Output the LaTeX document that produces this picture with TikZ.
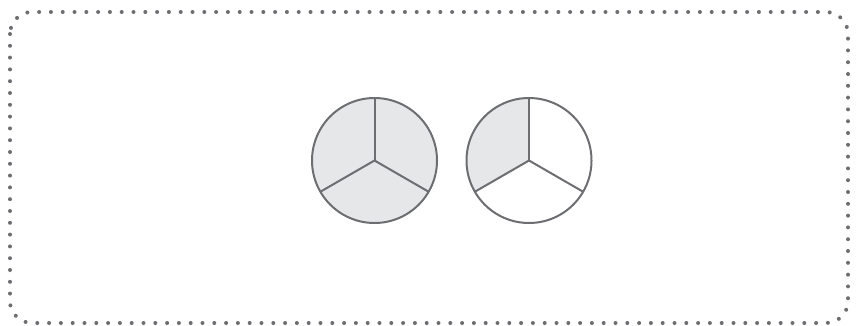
\documentclass[tikz,border=0pt]{standalone}
\definecolor{rimgray}{HTML}{6D6E71}
\definecolor{slicegray}{HTML}{E6E7E8}
\begin{document}
\begin{tikzpicture}[x=1pt, y=-1pt]
  \useasboundingbox (0, 0) rectangle (856, 326);
  \coordinate (l) at (374.5, 160.5);
  \coordinate (r) at (529, 160.5);
  \draw[rimgray, line width=4pt, line cap=round, dash pattern=on 0pt off 11.8pt,
    rounded corners=22pt] (10, 12) rectangle (848, 323);
  \fill[slicegray] (l) circle (62.5);
  \fill[slicegray] (r) -- ++(-90:62.5) arc[start angle=-90, end angle=-210, radius=62.5] -- cycle;
  \foreach \c in {l, r} {
    \draw[rimgray, line width=2pt] (\c) circle (62.5);
    \foreach \a in {-90, 30, 150} \draw[rimgray, line width=2pt] (\c) -- ++(\a:62.5);
  }
\end{tikzpicture}
\end{document}
